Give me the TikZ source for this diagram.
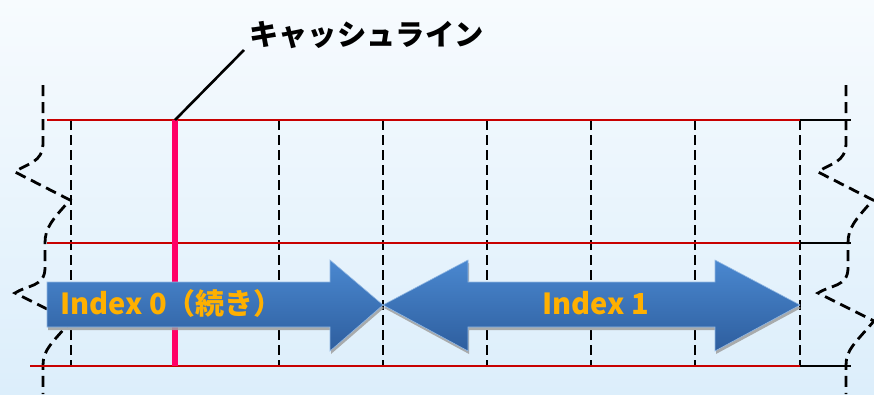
\documentclass[tikz,border=0pt]{standalone}
\usepackage{fontspec}
\newfontfamily\cjk{Noto Sans CJK JP}
\definecolor{bgtop}{HTML}{F7FBFE}
\definecolor{bgbot}{HTML}{DCEEFB}
\definecolor{linered}{HTML}{C80000}
\definecolor{cashpink}{HTML}{FF0066}
\definecolor{arrtop}{HTML}{4A88D0}
\definecolor{arrbot}{HTML}{2E5E9E}
\definecolor{lbl}{HTML}{FFB000}
\begin{document}
\begin{tikzpicture}[x=1pt,y=-1pt,
  rowline/.style={linered, line width=2.4pt},
  blackext/.style={black, line width=2.8pt},
  slot/.style={black, line width=2pt, dash pattern=on 10pt off 5pt},
  tear/.style={black, line width=2.8pt, dash pattern=on 11pt off 6pt},
  arrowshape/.style={top color=arrtop, bottom color=arrbot, draw=arrtop!60!white, line width=0.6pt},
  shadowshape/.style={fill=gray!75, opacity=.85},
  lbltext/.style={font=\cjk\bfseries\fontsize{29}{29}\selectfont, text=lbl, inner sep=0pt},
  titletext/.style={font=\cjk\bfseries\fontsize{29.3}{29.3}\selectfont, text=black, inner sep=0pt}]
\useasboundingbox (0,0) rectangle (874,394);
\shade[top color=bgtop, bottom color=bgbot] (0,0) rectangle (874,394);

% torn edges
\foreach \dx in {0,803}{
  \begin{scope}[xshift=\dx pt]
    \draw[tear] (43,85) -- (43,143) .. controls (43,163) and (27,163) .. (15,172)
      -- (70,200) .. controls (52,220) and (45,228) .. (45,243) -- (45,268)
      .. controls (45,287) and (27,285) .. (15,293) -- (71,321)
      .. controls (52,343) and (43,350) .. (43,365) -- (43,394);
  \end{scope}
}

% slot boundaries
\foreach \x in {71,279,383,487,591,695,800}{
  \draw[slot] (\x,120) -- (\x,366);
}

% row lines
\draw[rowline] (47,120) -- (800,120);
\draw[rowline] (47,243) -- (800,243);
\draw[rowline] (30,366) -- (800,366);
\draw[blackext] (800,120) -- (851,120);
\draw[blackext] (800,243) -- (851,243);
\draw[blackext] (800,366) -- (851,366);

% cache line
\coordinate (cltop) at (175,120);
\coordinate (clbot) at (175,366);
\draw[cashpink, line width=6pt] (cltop) -- (clbot);
\node[titletext, anchor=base west] (title) at (249,45) {キャッシュライン};
\coordinate (leadend) at (244,50);
\draw[black, line width=2.6pt] (cltop) -- (leadend);

% arrows: shadows
\begin{scope}[shift={(1,3)}]
  \fill[shadowshape] (47,282) -- (330,282) -- (330,260) -- (383,305) -- (330,351) -- (330,327) -- (47,327) -- cycle;
  \fill[shadowshape] (383,305) -- (468,260) -- (468,282) -- (715,282) -- (715,260) -- (800,305)
     -- (715,351) -- (715,327) -- (468,327) -- (468,351) -- cycle;
\end{scope}
% arrows
\shade[arrowshape] (47,282) -- (330,282) -- (330,260) -- (383,305) -- (330,351) -- (330,327) -- (47,327) -- cycle;
\shade[arrowshape] (383,305) -- (468,260) -- (468,282) -- (715,282) -- (715,260) -- (800,305)
   -- (715,351) -- (715,327) -- (468,327) -- (468,351) -- cycle;

\node[lbltext, anchor=base west] (idx0) at (60,314) {Index 0（続き）};
\node[lbltext, anchor=base] (idx1) at (596,314) {Index 1};
\end{tikzpicture}
\end{document}
